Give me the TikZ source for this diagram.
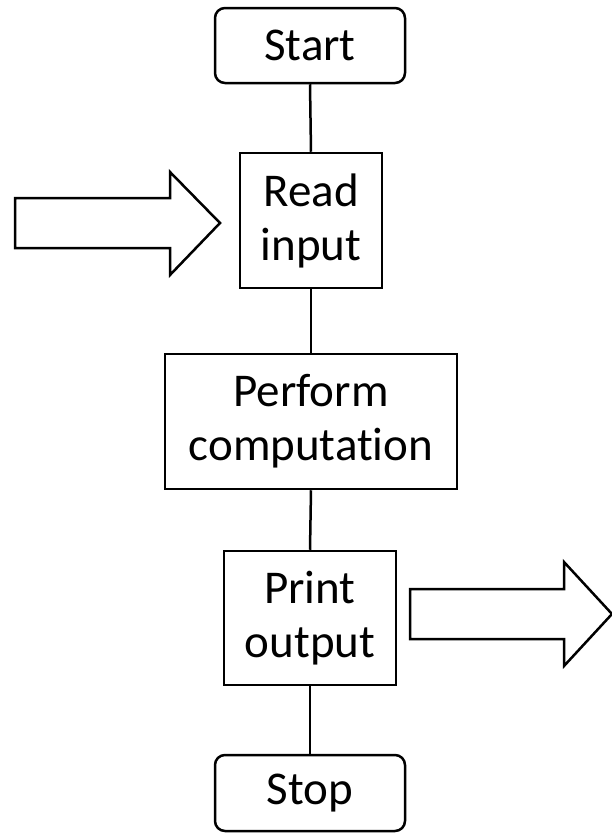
\documentclass[tikz,border=0pt]{standalone}
\usepackage{fontspec}
\setmainfont[Ligatures=NoCommon]{Carlito}
\begin{document}
\begin{tikzpicture}[x=1pt,y=-1pt,
  box/.style={draw,line width=2.5pt,align=center,inner sep=0pt,font=\fontsize{47}{54}\selectfont},
  term/.style={box,rounded corners=10pt},
  link/.style={line width=2.5pt},
  blockarrow/.style={draw,line width=2.5pt,line join=miter,fill=white}]
\useasboundingbox (0,0) rectangle (612,833);
\node[term,minimum width=190pt,minimum height=75pt] (start) at (310,45.5) {Start};
\node[box,minimum width=142pt,minimum height=135pt] (read) at (311,220.5) {Read\\input};
\node[box,minimum width=292pt,minimum height=135pt] (comp) at (311,421.5) {Perform\\computation};
\node[box,minimum width=172pt,minimum height=134pt] (print) at (310,618) {Print\\output};
\node[term,minimum width=190pt,minimum height=76pt] (stop) at (310,793) {Stop};
\draw[link] (start.south) -- (read.north);
\draw[link] (read.south) -- (comp.north);
\draw[link] (comp.south) -- (print.north);
\draw[link] (print.south) -- (stop.north);
\draw[blockarrow] (15,198) -- (170,198) -- (170,172) -- (220,223) -- (170,275) -- (170,248) -- (15,248) -- cycle;
\draw[blockarrow] (410,589) -- (564,589) -- (564,562) -- (612,614) -- (564,666) -- (564,639) -- (410,639) -- cycle;
\end{tikzpicture}
\end{document}
